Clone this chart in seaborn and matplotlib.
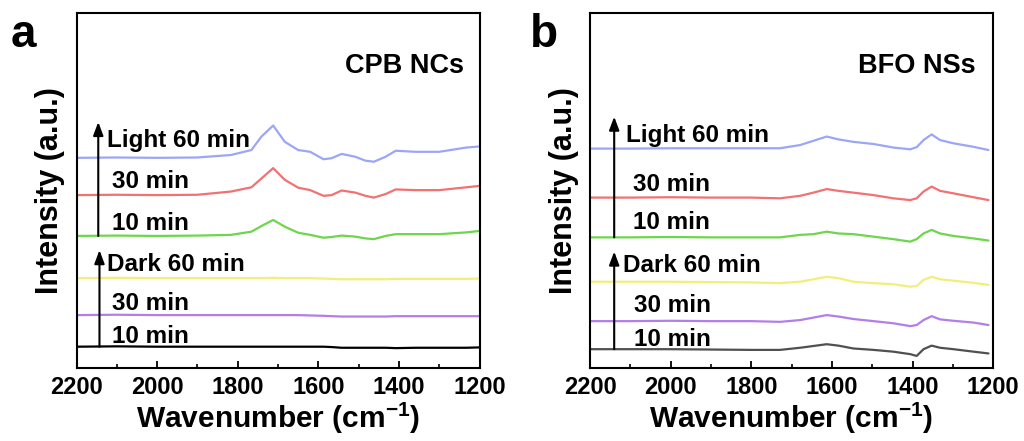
import matplotlib
matplotlib.use("Agg")
import matplotlib.pyplot as plt
import seaborn as sns
import pandas as pd

# ---------------- data ----------------
series_names = ["Dark 10 min", "Dark 30 min", "Dark 60 min", "Light 10 min", "Light 30 min", "Light 60 min"]

wn_a = [2200, 2100, 2000, 1900, 1817, 1766, 1741, 1712, 1683, 1650, 1620, 1587, 1567,
        1542, 1508, 1483, 1462, 1433, 1408, 1358, 1300, 1233, 1200]
a_light60 = [59.2, 59.3, 59.2, 59.3, 60.0, 61.4, 65.2, 68.3, 63.7, 61.4, 60.9, 58.8, 59.1,
             60.3, 59.5, 58.4, 58.1, 59.5, 61.2, 60.9, 60.9, 62.1, 62.4]
a_light30 = [48.7, 48.8, 48.7, 48.8, 49.7, 50.9, 53.4, 56.3, 53.0, 50.8, 50.1, 48.5, 48.7,
             50.0, 49.4, 48.5, 48.0, 49.0, 50.3, 50.1, 50.1, 50.9, 51.3]
a_light10 = [37.2, 37.3, 37.2, 37.3, 37.5, 38.4, 40.0, 41.7, 39.8, 38.1, 37.5, 36.7, 36.9,
             37.3, 37.0, 36.5, 36.3, 37.2, 37.7, 37.7, 37.7, 38.2, 38.6]
a_dark60 = [25.3, 25.4, 25.3, 25.3, 25.3, 25.3, 25.3, 25.4, 25.3, 25.3, 25.3, 25.2, 25.1,
            25.0, 25.0, 25.0, 25.0, 25.0, 25.1, 25.1, 25.1, 25.1, 25.2]
a_dark30 = [14.9, 15.0, 14.9, 14.9, 14.9, 14.9, 14.9, 14.9, 14.9, 14.9, 14.8, 14.7, 14.6,
            14.5, 14.5, 14.5, 14.5, 14.5, 14.6, 14.6, 14.6, 14.6, 14.6]
a_dark10 = [6.0, 6.1, 6.0, 6.0, 6.0, 6.0, 6.0, 6.0, 6.0, 6.0, 6.0, 6.0, 5.9,
            5.7, 5.7, 5.7, 5.7, 5.7, 5.6, 5.7, 5.7, 5.7, 5.8]

wn_b = [2200, 2100, 2000, 1900, 1800, 1729, 1679, 1646, 1613, 1584, 1547, 1497, 1448,
        1406, 1390, 1373, 1353, 1332, 1299, 1249, 1212]
b_light60 = [61.8, 61.8, 61.9, 61.9, 61.9, 61.9, 62.8, 64.0, 65.2, 64.4, 63.7, 63.1, 62.1,
             61.6, 62.2, 64.2, 65.8, 64.2, 63.3, 62.3, 61.4]
b_light30 = [48.0, 48.0, 48.1, 48.0, 48.0, 47.8, 48.5, 49.4, 50.4, 49.9, 49.4, 48.7, 47.8,
             47.3, 47.8, 49.7, 51.1, 49.9, 49.2, 48.1, 47.3]
b_light10 = [36.8, 36.8, 36.9, 36.8, 36.8, 36.8, 37.5, 37.7, 38.4, 37.9, 37.7, 37.0, 36.3,
             35.6, 36.3, 37.9, 38.9, 37.9, 37.2, 36.5, 35.9]
b_dark60 = [24.3, 24.3, 24.3, 24.2, 24.1, 23.9, 24.3, 25.0, 25.7, 25.3, 24.3, 23.9, 23.6,
            22.9, 23.1, 24.8, 25.7, 25.0, 24.6, 24.0, 23.4]
b_dark30 = [13.2, 13.2, 13.3, 13.2, 13.2, 13.0, 13.5, 14.2, 14.9, 14.5, 13.8, 13.2, 12.6,
            11.8, 12.1, 13.5, 14.6, 13.7, 13.3, 12.8, 12.1]
b_dark10 = [5.3, 5.3, 5.3, 5.2, 5.1, 5.1, 5.7, 6.2, 6.7, 6.3, 5.5, 5.1, 4.6,
            3.9, 3.4, 5.3, 6.3, 5.7, 5.3, 4.6, 4.1]

x_ticks = [2200, 2000, 1800, 1600, 1400, 1200]
label_texts = ["10 min", "30 min", "Dark 60 min", "10 min", "30 min", "Light 60 min"]

colors_a = ["#000000", "#B27FE8", "#F2EE7A", "#6ED64C", "#F07272", "#9CA6F6"]
colors_b = ["#505050", "#B27FE8", "#F2EE7A", "#6ED64C", "#F07272", "#9CA6F6"]

# ---------------- style ----------------
sns.set_style("white")
plt.rcParams["font.family"] = ["Liberation Sans", "DejaVu Sans"]
plt.rcParams["font.weight"] = "bold"
plt.rcParams["axes.labelweight"] = "bold"
plt.rcParams["text.color"] = "black"
plt.rcParams["axes.labelcolor"] = "black"
plt.rcParams["xtick.color"] = "black"
plt.rcParams["mathtext.fontset"] = "custom"
plt.rcParams["mathtext.bf"] = "Liberation Sans:bold"
plt.rcParams["mathtext.rm"] = "Liberation Sans:bold"
plt.rcParams["mathtext.default"] = "bf"


def make_df(wn, arrays):
    rows = []
    for name, vals in zip(series_names, arrays):
        for x, y in zip(wn, vals):
            rows.append({"wn": x, "val": y, "series": name})
    return pd.DataFrame(rows)


df_a = make_df(wn_a, [a_dark10, a_dark30, a_dark60, a_light10, a_light30, a_light60])
df_b = make_df(wn_b, [b_dark10, b_dark30, b_dark60, b_light10, b_light30, b_light60])

fig = plt.figure(figsize=(10.24, 4.41), dpi=100)
ax_a = fig.add_axes([76.5 / 1024, 1 - 368 / 441, 403 / 1024, 355 / 441])
ax_b = fig.add_axes([590 / 1024, 1 - 368 / 441, 403.3 / 1024, 355 / 441])

panels = [
    (ax_a, df_a, colors_a, "CPB NCs", 1239,
     [(2112, 7.1), (2111, 16.3), (2125, 27.4), (2112, 38.9), (2112, 50.6), (2123.5, 62.3)],
     2146, (37.2, 69.3), 2143, (6.0, 33.2), "a", 11),
    (ax_b, df_b, colors_b, "BFO NSs", 1245,
     [(2091, 6.3), (2091, 15.9), (2117, 27.1), (2092.5, 39.1), (2094, 49.9), (2110.7, 63.7)],
     2140, (36.8, 70.8), 2140, (5.3, 32.8), "b", 530),
]

for ax, df, cols, title, tx, lab_pos, lx, lyy, dx, dyy, letter, letter_x in panels:
    sns.lineplot(data=df, x="wn", y="val", hue="series", hue_order=series_names,
                 palette=cols, estimator=None, legend=False, linewidth=1.6, ax=ax)
    ax.set_xlim(2200, 1200)
    ax.set_ylim(0, 100)
    ax.set_xticks(x_ticks)
    ax.set_xticks([2100, 1900, 1700, 1500, 1300], minor=True)
    ax.set_yticks([])
    ax.tick_params(axis="x", which="major", direction="in", length=5, width=1.3,
                   labelsize=17, pad=6, bottom=True, colors="black")
    ax.tick_params(axis="x", which="minor", direction="in", length=3, width=1.2, bottom=True)
    for lbl in ax.get_xticklabels():
        lbl.set_fontweight("bold")
    for sp in ax.spines.values():
        sp.set_visible(True)
        sp.set_linewidth(1.5)
        sp.set_color("black")
    ax.set_xlabel("Wavenumber (cm$^{-1}$)", fontsize=21.5, fontweight="bold", labelpad=1)
    ax.set_ylabel("Intensity (a.u.)", fontsize=22, fontweight="bold", labelpad=8)
    ax.text(tx, 83.0, title, ha="right", va="baseline", fontsize=19.5, fontweight="bold")
    for (px, py), txt in zip(lab_pos, label_texts):
        ax.text(px, py, txt, ha="left", va="baseline", fontsize=17.5, fontweight="bold")
    for xx, (y0, y1) in [(lx, lyy), (dx, dyy)]:
        ax.annotate("", xy=(xx, y1), xytext=(xx, y0),
                    arrowprops=dict(arrowstyle="-|>,head_length=0.8,head_width=0.3",
                                    color="black", lw=1.5, shrinkA=0, shrinkB=0))
    fig.text(letter_x / 1024, 1 - 47 / 441, letter, fontsize=33, fontweight="bold",
             ha="left", va="baseline")

fig.savefig("out.png", dpi=100)
